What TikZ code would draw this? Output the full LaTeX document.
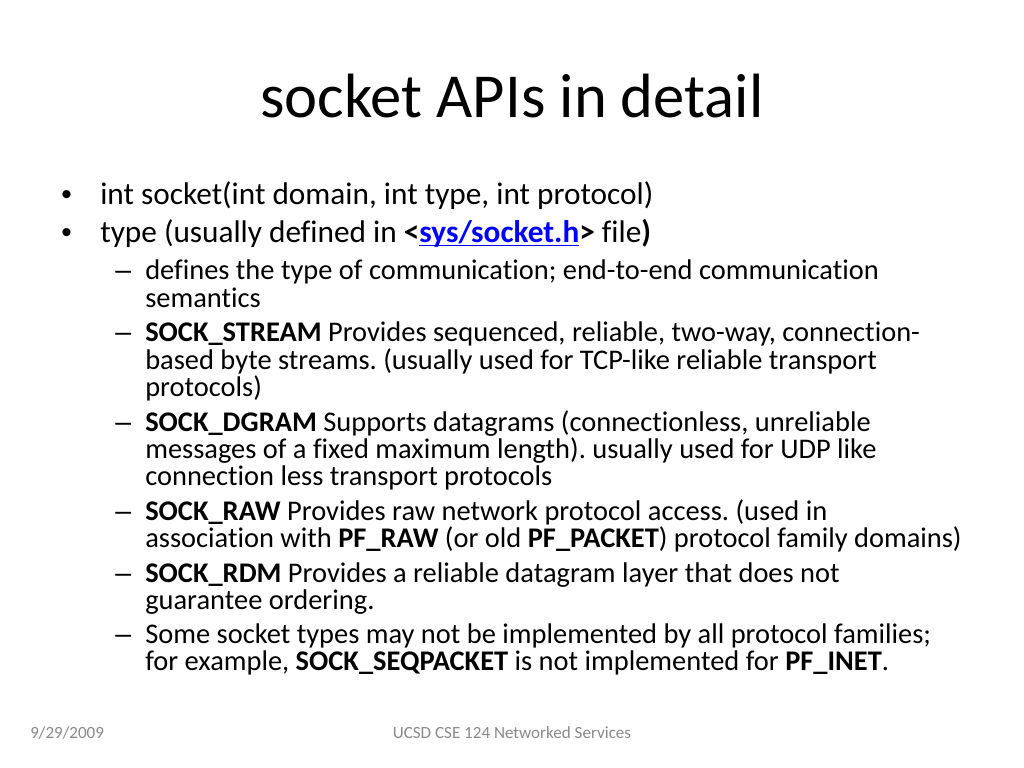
\documentclass[tikz,border=0pt]{standalone}
\usepackage{fontspec}
\setmainfont[Ligatures={NoCommon}]{Carlito}
\newfontfamily\markfont{Liberation Sans}
\usepackage{xcolor}
\usetikzlibrary{positioning}
\definecolor{footgray}{HTML}{898989}
\definecolor{linkblue}{HTML}{0000FF}
\newcommand{\weblink}[1]{{\color{linkblue}\setbox0\hbox{#1}\rlap{\rule[-2.2pt]{\wd0}{0.9pt}}\box0}}
\frenchspacing
\tikzset{
  titletext/.style={font=\fontsize{44}{53}\selectfont, anchor=base, inner sep=0pt},
  lvlone/.style={font=\fontsize{22}{26}\selectfont, anchor=base west, inner sep=0pt},
  lvltwo/.style={font=\fontsize{20}{24}\selectfont, anchor=base west, inner sep=0pt},
  dotmark/.style={font=\markfont\fontsize{21}{24}\selectfont, anchor=base west, inner sep=0pt},
  dashmark/.style={font=\markfont\fontsize{20}{24}\selectfont, anchor=base west, inner sep=0pt},
  foot/.style={font=\fontsize{12}{14}\selectfont, text=footgray, anchor=base, inner sep=0pt},
}
\begin{document}
\begin{tikzpicture}[x=0.703125pt, y=-0.703125pt]
  \useasboundingbox[fill=white] (0,0) rectangle (1024,768);

  % title
  \node[titletext] (title) at (512,118) {socket APIs in detail};

  % first level
  \node[dotmark] (b1) at (61,205) {•};
  \node[lvlone] (t1) at (100,205) {int socket(int domain, int type, int protocol)};
  \node[dotmark] (b2) at (61,243) {•};
  \node[lvlone] (t2) at (100,243) {type (usually defined in \textbf{<}\weblink{\textbf{sys/socket.h}}\textbf{>} file\textbf{)}};

  % second level
  \node[dashmark] (d1) at (115,280) {–};
  \node[lvltwo] (s1a) at (145,280) {defines the type of communication; end-to-end communication};
  \node[lvltwo] (s1b) at (145,307) {semantics};

  \node[dashmark] (d2) at (115,342) {–};
  \node[lvltwo] (s2a) at (145,342) {\textbf{SOCK\_STREAM} Provides sequenced, reliable, two-way, connection-};
  \node[lvltwo] (s2b) at (145,369) {based byte streams. (usually used for TCP-like reliable transport};
  \node[lvltwo] (s2c) at (145,396) {protocols)};

  \node[dashmark] (d3) at (115,431) {–};
  \node[lvltwo] (s3a) at (145,431) {\textbf{SOCK\_DGRAM} Supports datagrams (connectionless, unreliable};
  \node[lvltwo] (s3b) at (145,458) {messages of a fixed maximum length). usually used for UDP like};
  \node[lvltwo] (s3c) at (145,485) {connection less transport protocols};

  \node[dashmark] (d4) at (115,520) {–};
  \node[lvltwo] (s4a) at (145,520) {\textbf{SOCK\_RAW} Provides raw network protocol access. (used in};
  \node[lvltwo] (s4b) at (145,547) {association with \textbf{PF\_RAW} (or old \textbf{PF\_PACKET}) protocol family domains)};

  \node[dashmark] (d5) at (115,582) {–};
  \node[lvltwo] (s5a) at (145,582) {\textbf{SOCK\_RDM} Provides a reliable datagram layer that does not};
  \node[lvltwo] (s5b) at (145,609) {guarantee ordering.};

  \node[dashmark] (d6) at (115,643) {–};
  \node[lvltwo] (s6a) at (145,643) {Some socket types may not be implemented by all protocol families;};
  \node[lvltwo] (s6b) at (145,670) {for example, \textbf{SOCK\_SEQPACKET} is not implemented for \textbf{PF\_INET}.};

  % footer
  \node[foot, anchor=base west] (date) at (30,738) {9/29/2009};
  \node[foot] (course) at (512,738) {UCSD CSE 124 Networked Services};
\end{tikzpicture}
\end{document}
